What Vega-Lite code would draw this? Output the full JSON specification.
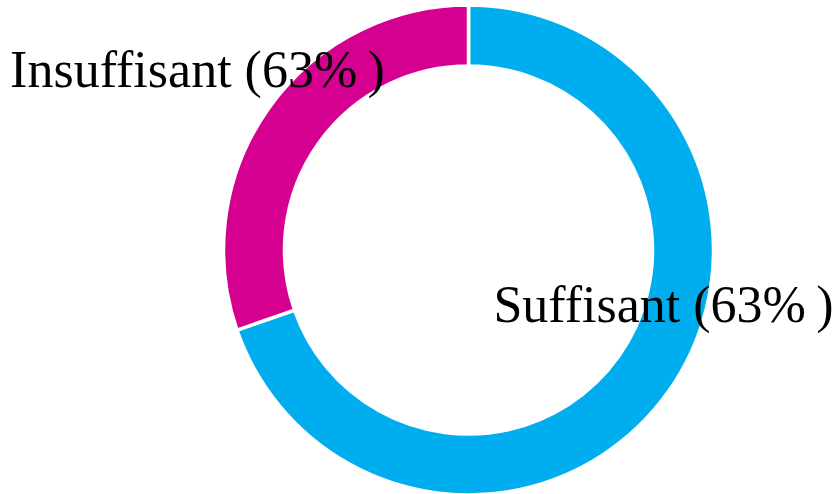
{
  "$schema": "https://vega.github.io/schema/vega-lite/v6.json",
  "autosize": {"type": "none"},
  "width": 737,
  "height": 488,
  "padding": {"left": 100, "top": 6, "right": 1, "bottom": 0},
  "background": "white",
  "data": {
    "values": [
      {"categorie": "Suffisant", "valeur": 69.7, "ordre": 1, "etiquette": "Suffisant (63%\u2009)"},
      {"categorie": "Insuffisant", "valeur": 30.3, "ordre": 2, "etiquette": "Insuffisant (63%\u2009)"}
    ]
  },
  "encoding": {
    "theta": {"field": "valeur", "type": "quantitative", "stack": true},
    "order": {"field": "ordre", "type": "quantitative"}
  },
  "layer": [
    {
      "mark": {"type": "arc", "outerRadius": 245, "innerRadius": 184, "stroke": "white", "strokeWidth": 3.5},
      "encoding": {
        "color": {
          "field": "categorie",
          "type": "nominal",
          "scale": {"domain": ["Suffisant", "Insuffisant"], "range": ["#00AEEF", "#D50090"]},
          "legend": null
        }
      }
    },
    {
      "mark": {"type": "text", "radius": 316, "thetaOffset": -0.0785, "align": "center", "baseline": "alphabetic", "font": "Liberation Serif", "fontSize": 52, "color": "black"},
      "encoding": {"text": {"condition": {"test": "datum.categorie === 'Insuffisant'", "field": "etiquette"}, "value": ""}}
    },
    {
      "mark": {"type": "text", "radius": 208, "thetaOffset": -0.2636, "align": "center", "baseline": "alphabetic", "font": "Liberation Serif", "fontSize": 52, "color": "black"},
      "encoding": {"text": {"condition": {"test": "datum.categorie === 'Suffisant'", "field": "etiquette"}, "value": ""}}
    }
  ]
}
